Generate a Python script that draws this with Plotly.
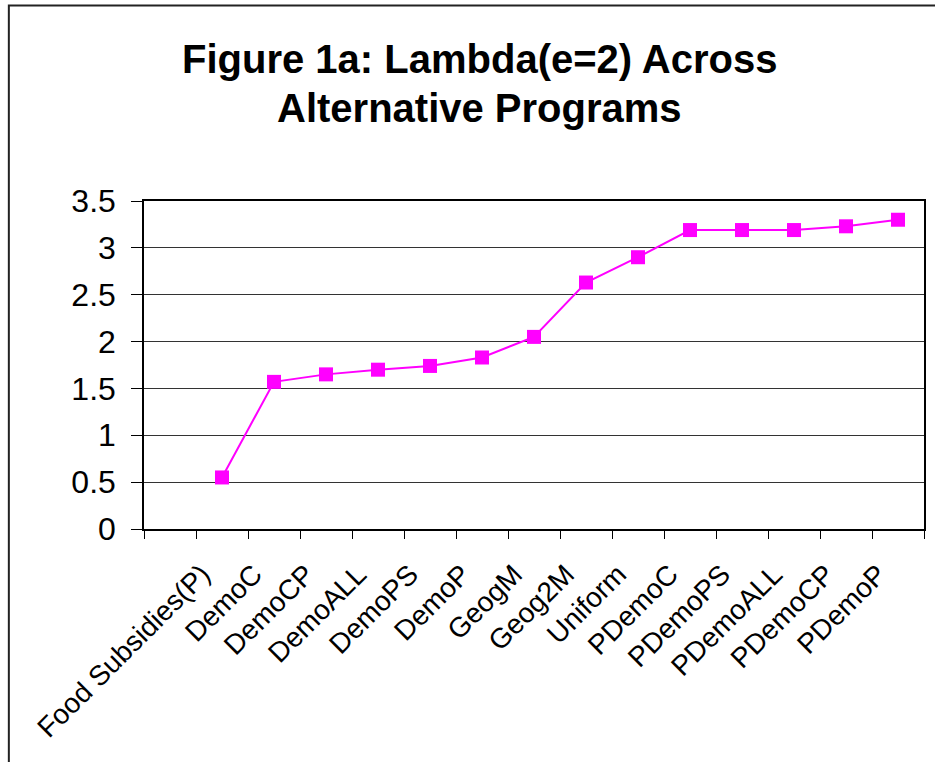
import plotly.graph_objects as go

# Programs ordered by lambda (e=2); the first category slot on the axis is left empty
programs = ["Food Subsidies(P)", "DemoC", "DemoCP", "DemoALL", "DemoPS", "DemoP",
            "GeogM", "Geog2M", "Uniform", "PDemoC", "PDemoPS", "PDemoALL",
            "PDemoCP", "PDemoP"]
lambda_e2 = [0.55, 1.57, 1.65, 1.70, 1.74, 1.83, 2.05, 2.63, 2.90, 3.19, 3.19,
             3.19, 3.23, 3.30]
axis_categories = [" "] + programs
y_ticks = [0, 0.5, 1, 1.5, 2, 2.5, 3, 3.5]

title_lines = ["Figure 1a: Lambda(e=2) Across", "Alternative Programs"]

W, H = 935, 762
L, R, T, B = 144, 926, 201, 529  # plot-area edges in pixels


def px_to_paper(x=None, y=None):
    out = []
    if x is not None:
        out.append((x - L) / (R - L))
    if y is not None:
        out.append((B - y) / (B - T))
    return out[0] if len(out) == 1 else out


fig = go.Figure()
fig.add_trace(go.Scatter(
    x=programs, y=lambda_e2, mode="lines+markers",
    line=dict(color="#FF00FF", width=2),
    marker=dict(symbol="square", size=14, color="#FF00FF"),
    showlegend=False, cliponaxis=False,
))

font_family = "Liberation Sans, Arial, sans-serif"

fig.update_layout(
    width=W, height=H,
    margin=dict(l=L, r=W - R, t=T, b=H - B, pad=0),
    paper_bgcolor="white", plot_bgcolor="white",
    font=dict(family=font_family, color="black"),
    xaxis=dict(
        type="category", categoryorder="array", categoryarray=axis_categories,
        range=[-0.5, len(axis_categories) - 0.5],
        tickson="boundaries", ticks="outside", ticklen=8, tickwidth=1,
        tickcolor="black", tickangle=-45, tickfont=dict(size=28),
        ticklabelstandoff=16, ticklabelshift=-20,
        showgrid=False, showline=True, linecolor="black", linewidth=1.5,
        mirror=True, zeroline=False,
    ),
    yaxis=dict(
        range=[0, 3.5], tickvals=y_ticks, ticktext=[f"{v:g}" for v in y_ticks],
        ticks="outside", ticklen=11, tickwidth=1, tickcolor="black",
        tickfont=dict(size=32), ticklabelstandoff=9,
        showgrid=True, gridcolor="#333333", gridwidth=1,
        showline=True, linecolor="black", linewidth=1.5, mirror=True,
        zeroline=False,
    ),
)

# Two-line bold title
for text, y_px in zip(title_lines, [59, 108]):
    fig.add_annotation(
        text=f"<b>{text}</b>", xref="paper", yref="paper",
        x=px_to_paper(x=480), y=px_to_paper(y=y_px),
        xanchor="center", yanchor="middle", showarrow=False,
        font=dict(size=40, family=font_family, color="black"),
    )

# Outer chart frame
fig.add_shape(
    type="rect", xref="paper", yref="paper",
    x0=px_to_paper(x=8.5), x1=px_to_paper(x=945),
    y0=px_to_paper(y=780), y1=px_to_paper(y=5.5),
    line=dict(color="#222222", width=2), fillcolor="rgba(0,0,0,0)",
    layer="above",
)

fig.write_html("out.html")
